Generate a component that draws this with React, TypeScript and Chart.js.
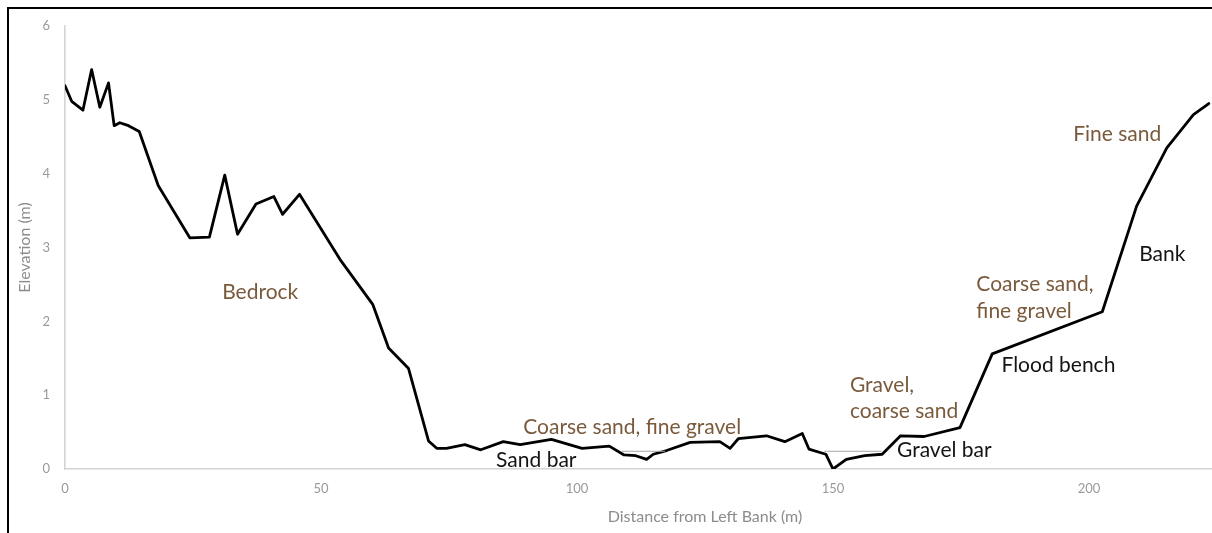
import React, { useEffect, useRef } from "react";
import { Chart, registerables } from "chart.js";

Chart.register(...registerables);

// Cross-section profile: distance from left bank (m) vs elevation (m)
const distance = [
  0, 1.3, 3.5, 5.2, 6.8, 8.5, 9.6, 10.7, 12.4, 14.5, 18.2, 24.4, 28.2, 31.2, 33.7, 37.3, 40.8, 42.5, 45.8,
  53.7, 60.1, 63.2, 67.1, 71.0, 72.6, 74.5, 78.1, 81.2, 85.6, 88.9, 95.0, 101.0, 106.3, 109.2, 111.5, 113.6,
  114.9, 117.5, 122.1, 127.9, 129.9, 131.5, 137.0, 140.6, 144.0, 145.3, 148.6, 150.0, 152.6, 156.2, 159.6,
  163.2, 167.8, 174.8, 181.1, 202.6, 209.3, 215.2, 220.4, 223.4,
];
const elevation = [
  5.19, 4.98, 4.86, 5.41, 4.9, 5.23, 4.65, 4.69, 4.65, 4.57, 3.84, 3.13, 3.14, 3.98, 3.18, 3.59, 3.69, 3.45, 3.72,
  2.84, 2.23, 1.64, 1.36, 0.38, 0.28, 0.28, 0.33, 0.26, 0.37, 0.33, 0.4, 0.28, 0.31, 0.19, 0.18, 0.13,
  0.2, 0.25, 0.36, 0.37, 0.28, 0.41, 0.45, 0.37, 0.48, 0.27, 0.2, 0.0, 0.13, 0.18, 0.2,
  0.45, 0.44, 0.56, 1.56, 2.13, 3.56, 4.35, 4.8, 4.95,
];

// Water surface segments (null breaks the line)
const waterX = [108.8, 117.2, 130, 148.3, 159.5];
const waterY: (number | null)[] = [0.24, 0.24, null, 0.24, 0.24];

// Axis range and ticks
const xMin = 0;
const xMax = 250;
const xStep = 50;
const yMin = 0;
const yMax = 6;
const yStep = 1;

const xTitle = "Distance from Left Bank (m)";
const yTitle = "Elevation (m)";

// Annotations anchored in data coordinates (left edge, vertical middle)
const labelText = [
  "Bedrock",
  "Coarse sand, fine gravel",
  "Sand bar",
  "Gravel,",
  "coarse sand",
  "Gravel bar",
  "Flood bench",
  "Coarse sand,",
  "fine gravel",
  "Bank",
  "Fine sand",
];
const labelX = [30.7, 89.5, 84.2, 153.3, 153.3, 162.5, 182.9, 178.0, 178.0, 209.8, 196.9];
const labelY = [2.39, 0.57, 0.12, 1.13, 0.78, 0.26, 1.4, 2.5, 2.14, 2.91, 4.53];
const labelKind = ["sediment", "sediment", "feature", "sediment", "sediment", "feature", "feature", "sediment", "sediment", "feature", "sediment"];

const SEDIMENT_COLOR = "#7a5a3c";
const FEATURE_COLOR = "#141414";
const FONT = "Lato, 'Open Sans', sans-serif";

const annotationPlugin = {
  id: "profileLabels",
  afterDatasetsDraw(chart: any) {
    const { ctx, scales } = chart;
    const xs = scales.x;
    const ys = scales.y;
    ctx.save();
    ctx.font = `21px ${FONT}`;
    ctx.textAlign = "left";
    ctx.textBaseline = "middle";
    labelText.forEach((t, i) => {
      ctx.fillStyle = labelKind[i] === "sediment" ? SEDIMENT_COLOR : FEATURE_COLOR;
      ctx.fillText(t, xs.getPixelForValue(labelX[i]), ys.getPixelForValue(labelY[i]));
    });
    ctx.restore();
  },
};

export default function App() {
  const canvasRef = useRef<HTMLCanvasElement | null>(null);

  useEffect(() => {
    const canvas = canvasRef.current;
    if (!canvas) return;
    const profile = distance.map((d, i) => ({ x: d, y: elevation[i] }));
    const water = waterX.map((d, i) => ({ x: d, y: waterY[i] }));

    const chart = new Chart(canvas, {
      type: "line",
      data: {
        datasets: [
          {
            label: "Water surface",
            data: water as any,
            borderColor: "#a6a6a6",
            borderWidth: 1,
            pointRadius: 0,
            spanGaps: false,
            tension: 0,
          },
          {
            label: "Profile",
            data: profile,
            borderColor: "#000000",
            borderWidth: 2.8,
            pointRadius: 0,
            tension: 0,
            borderJoinStyle: "round",
            borderCapStyle: "round",
          },
        ],
      },
      options: {
        animation: false,
        responsive: false,
        devicePixelRatio: 1,
        layout: { padding: { left: 0, top: 26, right: 55, bottom: 0 } },
        plugins: {
          legend: { display: false },
          tooltip: { enabled: false },
          title: { display: false },
        },
        scales: {
          x: {
            type: "linear",
            min: xMin,
            max: xMax,
            afterFit: (s: any) => {
              s.height = 64;
            },
            ticks: {
              stepSize: xStep,
              color: "#9a9a9a",
              padding: 12,
              maxRotation: 0,
              font: { family: FONT, size: 13 },
            },
            grid: { display: false, drawTicks: false },
            border: { display: true, color: "#d4d4d4", width: 1.6 },
            title: {
              display: true,
              text: xTitle,
              color: "#8c8c8c",
              font: { family: FONT, size: 16 },
              padding: { top: 0, bottom: 7 },
            },
          },
          y: {
            type: "linear",
            min: yMin,
            max: yMax,
            afterFit: (s: any) => {
              s.width = 65;
            },
            ticks: {
              stepSize: yStep,
              color: "#9a9a9a",
              padding: 15,
              font: { family: FONT, size: 13 },
            },
            grid: { display: false, drawTicks: false },
            border: { display: true, color: "#d4d4d4", width: 1.6 },
            title: {
              display: true,
              text: yTitle,
              color: "#8c8c8c",
              font: { family: FONT, size: 16 },
              padding: { top: 15, bottom: 0 },
            },
          },
        },
      },
      plugins: [annotationPlugin],
    });

    return () => {
      chart.destroy();
    };
  }, []);

  return (
    <div
      style={{
        position: "fixed",
        left: 0,
        top: 0,
        width: 1212,
        height: 533,
        overflow: "hidden",
        background: "#ffffff",
      }}
    >
      <canvas
        ref={canvasRef}
        width={1400}
        height={533}
        style={{ position: "absolute", left: 0, top: 0, width: 1400, height: 533 }}
      />
      <div
        style={{
          position: "absolute",
          left: 7,
          top: 7,
          right: -10,
          bottom: -10,
          borderLeft: "2px solid #000",
          borderTop: "2px solid #000",
          pointerEvents: "none",
        }}
      />
    </div>
  );
}
